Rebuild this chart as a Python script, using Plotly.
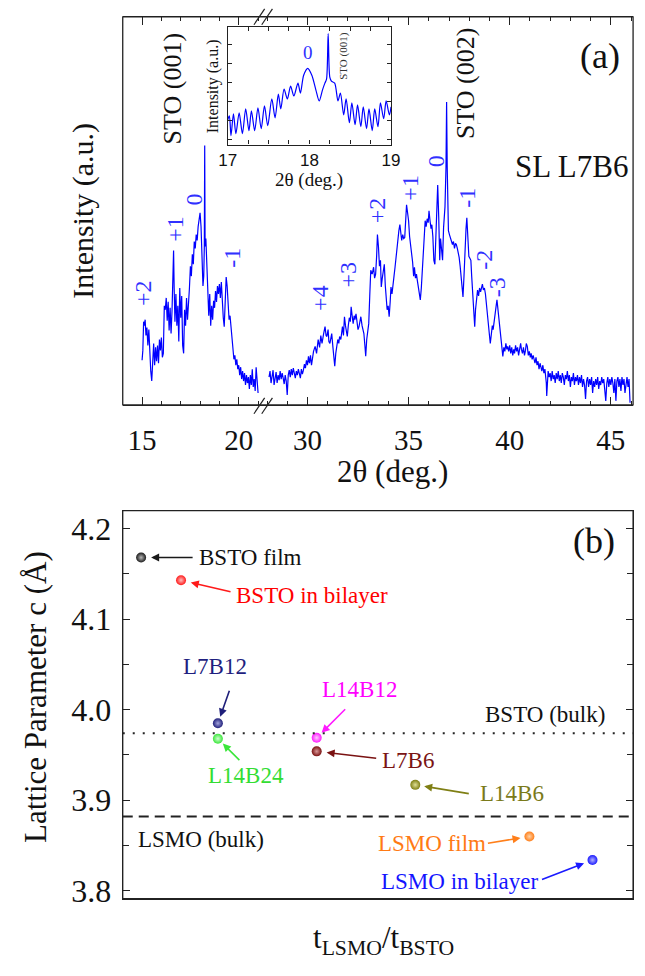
import math
import plotly.graph_objects as go

FIG_W, FIG_H = 645, 976


def fx(p):
    """horizontal pixel -> paper fraction"""
    return p / FIG_W


def fy(p):
    """vertical pixel (measured from the top) -> paper fraction"""
    return 1 - p / FIG_H


SERIF = "Liberation Serif"
SANS = "Liberation Sans"
INK = "#111111"
XRD_BLUE = "#0000ff"
ORDER_BLUE = "#3030ff"

# ---------------------------------------------------------------
# (a) XRD 2theta scan of superlattice L7B6 (arbitrary log-intensity units)
# ---------------------------------------------------------------
TT_LOW = [
    15.00, 15.04, 15.08, 15.12, 15.16, 15.20, 15.25, 15.30, 15.35, 15.40,
    15.45, 15.50, 15.55, 15.60, 15.65, 15.70, 15.75, 15.80, 15.85, 15.90,
    15.95, 16.00, 16.05, 16.10, 16.15, 16.20, 16.25, 16.30, 16.35, 16.40,
    16.45, 16.50, 16.55, 16.60, 16.63, 16.66, 16.70, 16.75, 16.80, 16.85,
    16.90, 16.95, 17.00, 17.05, 17.10, 17.15, 17.20, 17.25, 17.30, 17.35,
    17.40, 17.45, 17.50, 17.55, 17.60, 17.65, 17.70, 17.75, 17.80, 17.85,
    17.90, 17.95, 18.00, 18.05, 18.10, 18.15, 18.19, 18.22, 18.24, 18.26,
    18.30, 18.35, 18.40, 18.45, 18.50, 18.55, 18.60, 18.65, 18.70, 18.75,
    18.80, 18.85, 18.90, 18.95, 19.00, 19.05, 19.10, 19.15, 19.20, 19.25,
    19.30, 19.35, 19.40, 19.45, 19.50, 19.55, 19.60, 19.65, 19.70, 19.75,
    19.80, 19.85, 19.90, 19.95, 20.00, 20.05, 20.10, 20.15, 20.20, 20.25,
    20.30, 20.35, 20.40, 20.45, 20.50, 20.55, 20.60, 20.65, 20.70, 20.75,
    20.80, 20.85, 20.90, 20.95, 21.00,
]
I_LOW = [
    45, 55, 84, 80, 86, 70, 78, 60, 76, 50,
    34, 24, 45, 62, 40, 58, 44, 60, 42, 66,
    55, 68, 48, 52, 100, 96, 108, 85, 104, 75,
    98, 72, 95, 130, 156, 118, 84, 112, 80, 100,
    64, 118, 88, 110, 60, 52, 96, 80, 108, 86,
    112, 118, 140, 130, 152, 142, 165, 158, 172, 166,
    180, 186, 194, 180, 150, 120, 130, 160, 262, 160,
    168, 140, 122, 90, 112, 80, 100, 86, 105, 98,
    115, 104, 120, 112, 122, 108, 124, 102, 88, 79,
    100, 129, 120, 100, 86, 90, 78, 72, 60, 46,
    50, 40, 46, 36, 40, 30, 38, 26, 34, 24,
    32, 20, 30, 22, 28, 16, 30, 20, 36, 18,
    26, 14, 38, 20, 12,
]

TT_HIGH = [
    28.10, 28.15, 28.20, 28.25, 28.30, 28.35, 28.40, 28.45, 28.50, 28.55,
    28.60, 28.65, 28.70, 28.75, 28.80, 28.85, 28.90, 28.95, 29.00, 29.05,
    29.10, 29.15, 29.20, 29.25, 29.30, 29.35, 29.40, 29.45, 29.50, 29.55,
    29.60, 29.65, 29.70, 29.75, 29.80, 29.85, 29.90, 29.95, 30.00, 30.05,
    30.10, 30.15, 30.20, 30.24, 30.30, 30.38, 30.45, 30.53, 30.60, 30.66,
    30.72, 30.80, 30.87, 30.92, 30.96, 31.02, 31.06, 31.11, 31.16, 31.20,
    31.26, 31.30, 31.35, 31.40, 31.44, 31.50, 31.55, 31.59, 31.65, 31.69,
    31.73, 31.78, 31.83, 31.88, 31.93, 31.97, 32.02, 32.07, 32.12, 32.16,
    32.21, 32.26, 32.31, 32.35, 32.40, 32.45, 32.50, 32.55, 32.60, 32.64,
    32.70, 32.75, 32.79, 32.84, 32.88, 32.93, 32.98, 33.03, 33.08, 33.13,
    33.20, 33.27, 33.32, 33.37, 33.42, 33.46, 33.51, 33.56, 33.61, 33.65,
    33.70, 33.75, 33.80, 33.85, 33.89, 33.94, 33.99, 34.04, 34.09, 34.13,
    34.18, 34.23, 34.28, 34.33, 34.38, 34.43, 34.47, 34.52, 34.57, 34.62,
    34.66, 34.71, 34.76, 34.81, 34.86, 34.90, 34.95, 35.00, 35.05, 35.10,
    35.15, 35.20, 35.25, 35.29, 35.34, 35.39, 35.43, 35.48, 35.53, 35.58,
    35.63, 35.67, 35.72, 35.77, 35.82, 35.87, 35.92, 35.97, 36.01, 36.06,
    36.11, 36.15, 36.20, 36.25, 36.30, 36.35, 36.40, 36.44, 36.49, 36.54,
    36.58, 36.63, 36.68, 36.73, 36.80, 36.85, 36.88, 36.91, 36.97, 37.02,
    37.07, 37.12, 37.17, 37.22, 37.27, 37.32, 37.36, 37.41, 37.46, 37.50,
    37.55, 37.60, 37.65, 37.69, 37.74, 37.79, 37.84, 37.88, 37.93, 37.98,
    38.03, 38.08, 38.12, 38.17, 38.22, 38.27, 38.31, 38.36, 38.41, 38.46,
    38.51, 38.56, 38.61, 38.65, 38.70, 38.75, 38.80, 38.85, 38.90, 38.95,
    39.00, 39.04, 39.09, 39.14, 39.18, 39.23, 39.28, 39.33, 39.37, 39.42,
    39.47, 39.52, 39.57, 39.62, 39.66, 39.71, 39.76, 39.81, 39.86, 39.90,
    39.95, 40.00, 40.05, 40.10, 40.15, 40.20, 40.24, 40.29, 40.34, 40.39,
    40.44, 40.49, 40.54, 40.58, 40.63, 40.68, 40.73, 40.78, 40.82, 40.87,
    40.92, 40.97, 41.02, 41.06, 41.11, 41.16, 41.20, 41.25, 41.30, 41.35,
    41.40, 41.45, 41.50, 41.54, 41.59, 41.64, 41.69, 41.74, 41.78, 41.81,
    41.83, 41.86, 41.90, 41.95, 42.00, 42.05, 42.10, 42.15, 42.20, 42.25,
    42.30, 42.35, 42.40, 42.45, 42.50, 42.55, 42.60, 42.65, 42.70, 42.75,
    42.80, 42.85, 42.90, 42.95, 43.00, 43.05, 43.10, 43.15, 43.20, 43.25,
    43.30, 43.35, 43.40, 43.45, 43.50, 43.55, 43.60, 43.65, 43.70, 43.75,
    43.80, 43.85, 43.90, 43.95, 44.00, 44.05, 44.10, 44.15, 44.20, 44.25,
    44.30, 44.35, 44.40, 44.45, 44.50, 44.55, 44.60, 44.65, 44.70, 44.75,
    44.80, 44.85, 44.90, 44.95, 45.00, 45.05, 45.10, 45.15, 45.20, 45.25,
    45.30, 45.35, 45.40, 45.45, 45.50, 45.55, 45.60, 45.65, 45.70, 45.75,
    45.80, 45.85, 45.90, 45.95,
]
I_HIGH = [
    28, 34, 22, 30, 35, 20, 27, 33, 22, 30,
    25, 34, 26, 32, 27, 21, 30, 24, 10, 30,
    35, 28, 36, 30, 37, 31, 27, 34, 30, 36,
    31, 27, 36, 31, 35, 41, 37, 45, 40, 49,
    42, 50, 40, 46, 54, 59, 52, 66, 58, 70,
    62, 72, 79, 70, 69, 76, 64, 62, 70, 72,
    58, 50, 39, 52, 59, 66, 62, 69, 66, 76,
    79, 70, 89, 80, 74, 69, 80, 88, 84, 99,
    90, 82, 90, 86, 92, 80, 76, 79, 86, 89,
    80, 76, 72, 60, 49, 66, 74, 82, 110, 136,
    132, 139, 128, 132, 150, 172, 160, 140, 146, 119,
    128, 134, 142, 120, 109, 96, 100, 89, 104, 119,
    112, 124, 130, 139, 150, 156, 162, 176, 182, 170,
    166, 172, 168, 169, 186, 202, 194, 186, 170, 162,
    150, 144, 130, 139, 128, 132, 126, 118, 112, 106,
    118, 132, 160, 172, 186, 180, 188, 184, 196, 186,
    178, 182, 170, 146, 142, 170, 200, 222, 190, 146,
    168, 160, 146, 179, 200, 240, 306, 240, 176, 172,
    168, 166, 162, 165, 158, 163, 162, 158, 154, 149,
    140, 128, 118, 109, 130, 160, 178, 189, 170, 150,
    148, 146, 130, 112, 96, 79, 96, 108, 116, 110,
    118, 114, 120, 122, 116, 118, 112, 100, 86, 76,
    70, 62, 72, 80, 76, 86, 92, 100, 106, 96,
    86, 79, 70, 60, 49, 58, 54, 62, 56, 59,
    54, 60, 52, 58, 50, 56, 52, 60, 54, 58,
    50, 56, 62, 56, 52, 58, 50, 55, 62, 59,
    50, 54, 48, 52, 46, 50, 46, 42, 48, 40,
    44, 36, 42, 39, 34, 40, 32, 36, 29, 22,
    9, 26, 34, 28, 32, 24, 34, 26, 30, 22,
    32, 26, 34, 24, 30, 22, 32, 28, 20, 30,
    26, 34, 24, 30, 18, 28, 24, 32, 20, 28,
    24, 30, 20, 28, 22, 30, 18, 26, 20, 6,
    24, 28, 18, 26, 20, 28, 12, 24, 18, 26,
    20, 28, 16, 24, 20, 28, 22, 26, 14, 4,
    22, 28, 18, 26, 20, 28, 22, 12, 26, 4,
    24, 28, 18, 26, 14, 28, 20, 26, 12, 24,
    28, 18, 26, 2,
]

# inset: fine scan around the STO (001) reflection
TT_FINE = [
    17.00, 17.02, 17.04, 17.07, 17.10, 17.14, 17.18, 17.22, 17.26, 17.29,
    17.33, 17.37, 17.41, 17.45, 17.49, 17.54, 17.58, 17.62, 17.65, 17.69,
    17.73, 17.77, 17.81, 17.86, 17.89, 17.93, 17.98, 18.03, 18.08, 18.12,
    18.16, 18.19, 18.21, 18.23, 18.25, 18.27, 18.31, 18.35, 18.38, 18.42,
    18.45, 18.49, 18.52, 18.56, 18.59, 18.63, 18.66, 18.70, 18.73, 18.77,
    18.80, 18.84, 18.87, 18.91, 18.94, 18.98, 19.00,
]
I_FINE = [
    25, 29, 9, 31, 11, 32, 11, 36, 14, 34,
    14, 37, 16, 39, 19, 46, 27, 51, 36, 56,
    46, 59, 49, 62, 52, 70, 77, 70, 55, 44,
    55, 62, 66, 112, 68, 64, 62, 44, 52, 30,
    46, 22, 42, 20, 40, 18, 38, 16, 36, 14,
    36, 18, 42, 26, 44, 30, 38,
]

# satellite-order labels (2theta, height, text)
ORDER_LOW_TT = [15.05, 16.71, 17.66, 19.67]
ORDER_LOW_I = [113, 178, 208, 149]
ORDER_LOW_TXT = ["+2", "+1", "0", "-1"]
ORDER_HIGH_TT = [30.62, 32.02, 33.41, 35.05, 36.35, 37.88, 38.75, 39.38]
ORDER_HIGH_I = [108, 132, 197, 219, 246, 209, 147, 119]
ORDER_HIGH_TXT = ["+4", "+3", "+2", "+1", "0", "-1", "-2", "-3"]

# ---------------------------------------------------------------
# (b) out-of-plane lattice parameter vs thickness ratio
# ---------------------------------------------------------------
SAMPLES = ["BSTO film", "BSTO in bilayer", "L7B12", "L14B24", "L14B12",
           "L7B6", "L14B6", "LSMO film", "LSMO in bilayer"]
THICK_RATIO = [0.34, 0.45, 0.583, 0.583, 1.167, 1.167, 2.333, 5.2, 8.1]
LATTICE_C = [4.168, 4.143, 3.985, 3.968, 3.969, 3.954, 3.917, 3.860, 3.834]
BSTO_BULK_C = 3.974
LSMO_BULK_C = 3.882

# styling for panel (b)
MARK_COLORS = ["#1a1a1a", "#ff1a1a", "#1f1f7a", "#3be63b", "#ff1aff",
               "#7a1212", "#7f7f14", "#ff7f1a", "#1a1aff"]
MARK_GLOW = ["#b8b8b8", "#ffbcbc", "#a4a4dc", "#d0ffd0", "#ffc8ff",
             "#d89696", "#e0e096", "#ffd2a6", "#b0b0ff"]
TEXT_COLORS = ["#111111", "#ff0000", "#1f1f80", "#33dd33", "#ff00ff",
               "#7a1414", "#7a7a1a", "#ff7a14", "#1414ff"]
LABEL_XY = [(248, 563), (312, 602), (212, 673), (244, 784), (361, 697),
            (410, 768), (517, 802), (435, 852), (463, 891)]
ARROW_TAIL = [(53, 0), (51, 12), (12, -34), (23, 23), (30, -30),
              (61, 7), (55, 9), (-43, 7), (-52, 20)]
ARROW_STANDOFF = [10, 10, 7, 7, 7, 10, 9, 9, 9]

# ---------------------------------------------------------------
fig = go.Figure()

fig.add_trace(go.Scatter(x=TT_LOW, y=I_LOW, xaxis="x", yaxis="y", mode="lines",
                         line=dict(color=XRD_BLUE, width=1.2), hoverinfo="skip"))
fig.add_trace(go.Scatter(x=TT_HIGH, y=I_HIGH, xaxis="x2", yaxis="y", mode="lines",
                         line=dict(color=XRD_BLUE, width=1.2), hoverinfo="skip"))
fig.add_trace(go.Scatter(x=TT_FINE, y=I_FINE, xaxis="x4", yaxis="y4", mode="lines",
                         line=dict(color=XRD_BLUE, width=1.2, shape="spline",
                                   smoothing=0.8), hoverinfo="skip"))
fig.add_trace(go.Scatter(
    x=THICK_RATIO, y=LATTICE_C, xaxis="x3", yaxis="y3", mode="markers",
    marker=dict(size=10, color=MARK_COLORS, line=dict(width=0),
                gradient=dict(type="radial", color=MARK_GLOW)),
    text=SAMPLES, hoverinfo="text"))

frame = dict(showgrid=False, zeroline=False, showline=True, linecolor="#222222",
             linewidth=1.3)
tick_font = dict(family=SERIF, size=29, color=INK)
x_common = dict(frame, mirror="ticks", ticks="inside", ticklen=8, tickwidth=1.1,
                tickcolor="#222222", tick0=0, dtick=5, tickfont=tick_font,
                ticklabelstandoff=9,
                minor=dict(ticks="inside", ticklen=4, tickwidth=1.1,
                           tickcolor="#222222", tick0=0, dtick=1))

layout = dict(
    width=FIG_W, height=FIG_H, margin=dict(l=0, r=0, t=0, b=0),
    paper_bgcolor="white", plot_bgcolor="rgba(0,0,0,0)", showlegend=False,
    xaxis=dict(x_common, domain=[fx(117), fx(260)], range=[14.0, 21.19],
               anchor="y"),
    xaxis2=dict(x_common, domain=[fx(260), fx(642)], range=[27.74, 46.1],
                anchor="y"),
    yaxis=dict(domain=[fy(409), fy(17)], range=[0, 392], showgrid=False,
               zeroline=False, showline=False, showticklabels=False, ticks="",
               anchor="x"),
    xaxis4=dict(frame, domain=[fx(225), fx(393)], range=[17, 19], anchor="y4",
                mirror="ticks", ticks="inside", ticklen=4, tickwidth=1,
                tickcolor="#222222",
                tickvals=[17, 17.25, 17.5, 17.75, 18, 18.25, 18.5, 18.75, 19],
                ticktext=["17", "", "", "", "18", "", "", "", "19"],
                tickfont=dict(family=SANS, size=17, color=INK),
                ticklabelstandoff=0, linewidth=1.2),
    yaxis4=dict(frame, domain=[fy(146), fy(27)], range=[0, 119], anchor="x4",
                mirror="ticks", ticks="inside", ticklen=4, tickwidth=1,
                tickcolor="#222222", tick0=5, dtick=19.3, showticklabels=False,
                linewidth=1.2),
    xaxis3=dict(frame, domain=[fx(117), fx(642)], type="log",
                range=[-0.5246, 1.0323], anchor="y3", mirror=True, ticks="",
                showticklabels=False),
    yaxis3=dict(frame, domain=[fy(908), fy(516)], range=[3.7913, 4.2197],
                anchor="x3", mirror="ticks", ticks="inside", ticklen=7,
                tickwidth=1.1, tickcolor="#222222", tick0=3.8, dtick=0.1,
                tickformat=".1f", ticklabelstandoff=4,
                tickfont=dict(family=SERIF, size=32, color=INK),
                minor=dict(ticks="inside", ticklen=6, tickwidth=1.1,
                           tickcolor="#222222", dtick=0.05, tick0=3.8)),
)

shapes = []
# axis-break marks on the bottom and top edges of (a)
for ytop, ybot in [(402, 418), (9, 25)]:
    for x0 in (252, 260):
        shapes.append(dict(type="line", xref="paper", yref="paper",
                           x0=fx(x0), y0=fy(ybot), x1=fx(x0 + 11), y1=fy(ytop),
                           line=dict(color="#222222", width=1.2)))
# bulk reference lines in (b)
shapes.append(dict(type="line", xref="x3 domain", yref="y3", x0=0, x1=1,
                   y0=BSTO_BULK_C, y1=BSTO_BULK_C,
                   line=dict(color="#222222", width=2, dash="2px,8px")))
shapes.append(dict(type="line", xref="x3 domain", yref="y3", x0=0, x1=1,
                   y0=LSMO_BULK_C, y1=LSMO_BULK_C,
                   line=dict(color="#222222", width=2, dash="10px,6px")))
# outer frames
for (x0, y0, x1, y1, w) in [(117, 17, 642, 409, 1.3), (117, 516, 642, 908, 1.3)]:
    shapes.append(dict(type="rect", xref="paper", yref="paper",
                       x0=fx(x0), y0=fy(y1), x1=fx(x1), y1=fy(y0),
                       line=dict(color="#222222", width=w)))
layout["shapes"] = shapes

ann = []


def text_at(x, y, s, size, color=INK, angle=0, family=SERIF):
    ann.append(dict(xref="paper", yref="paper", x=fx(x), y=fy(y), text=s,
                    showarrow=False, textangle=angle, xanchor="center",
                    yanchor="middle",
                    font=dict(family=family, size=size, color=color)))


# panel (a) text
text_at(608, 57, "(a)", 36)
text_at(579, 168, "SL L7B6", 31)
text_at(168, 90, "STO (001)", 26, angle=-90)
text_at(469, 84, "STO (002)", 26, angle=-90)
text_at(76, 213, "Intensity (a.u.)", 30, angle=-90)
text_at(395, 476, "2θ (deg.)", 31)
for xs, ys, ts, xr in [(ORDER_LOW_TT, ORDER_LOW_I, ORDER_LOW_TXT, "x"),
                       (ORDER_HIGH_TT, ORDER_HIGH_I, ORDER_HIGH_TXT, "x2")]:
    for xv, yv, t in zip(xs, ys, ts):
        ann.append(dict(xref=xr, yref="y", x=xv, y=yv, text=t, showarrow=False,
                        textangle=-90, font=dict(family=SERIF, size=24,
                                                 color=ORDER_BLUE)))

# inset text
text_at(210, 87, "Intensity (a.u.)", 16, angle=-90)
text_at(309, 182, "2θ (deg.)", 19)
text_at(344, 57, "STO (001)", 11, color="#333333", angle=-90)
ann.append(dict(xref="x4", yref="y4", x=17.98, y=93, text="0", showarrow=False,
                font=dict(family=SERIF, size=19, color=ORDER_BLUE)))

# panel (b) text
text_at(602, 547, "(b)", 36)
text_at(551, 722, "BSTO (bulk)", 23)
text_at(197, 848, "LSMO (bulk)", 23)
text_at(28, 704, "Lattice Parameter c (Å)", 31, angle=-90)
text_at(385, 950, "t<sub>LSMO</sub>/t<sub>BSTO</sub>", 31)

for i, name in enumerate(SAMPLES):
    lx, ly = LABEL_XY[i]
    text_at(lx, ly, name, 23, color=TEXT_COLORS[i])
    dx, dy = ARROW_TAIL[i]
    ann.append(dict(xref="x3", yref="y3", x=math.log10(THICK_RATIO[i]),
                    y=LATTICE_C[i], text="", showarrow=True, axref="pixel",
                    ayref="pixel", ax=dx, ay=dy, arrowhead=2, arrowsize=1,
                    arrowwidth=1.6, arrowcolor=MARK_COLORS[i],
                    standoff=ARROW_STANDOFF[i]))

layout["annotations"] = ann
fig.update_layout(**layout)
fig.write_html("out.html")
